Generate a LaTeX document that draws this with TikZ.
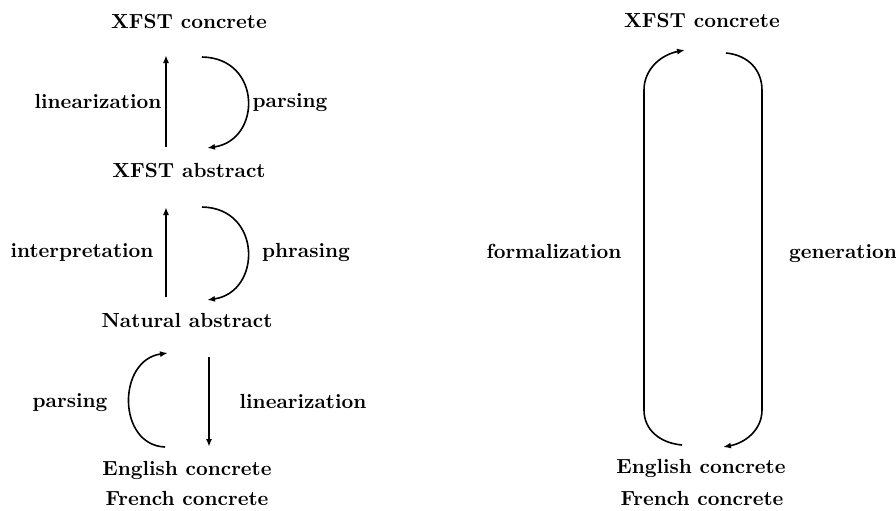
\documentclass[tikz,border=0pt]{standalone}
\usetikzlibrary{arrows.meta}
\begin{document}
\begin{tikzpicture}[x=0.5pt,y=-0.5pt,
  lbl/.style={anchor=base,inner sep=0pt,font=\fontsize{10.2}{12}\selectfont\bfseries},
  conn/.style={line width=0.8pt,-{Latex[length=4pt,width=3pt]}}]
\useasboundingbox (0,0) rectangle (896,510);
% left column texts
\node[lbl] (xc)  at (189,28)  {XFST concrete};
\node[lbl] (xa)  at (189,177) {XFST abstract};
\node[lbl] (na)  at (187,327) {Natural abstract};
\node[lbl] (ec)  at (187,475) {English concrete};
\node[lbl] (fc)  at (187,505) {French concrete};
\node[lbl] (l1)  at (98,108)  {linearization};
\node[lbl] (p1)  at (290,107) {parsing};
\node[lbl] (i1)  at (82,257)  {interpretation};
\node[lbl] (ph)  at (306,257) {phrasing};
\node[lbl] (p2)  at (70,407)  {parsing};
\node[lbl] (l2)  at (303,408) {linearization};
% right column texts
\node[lbl] (rxc) at (702,27)  {XFST concrete};
\node[lbl] (rec) at (701,473) {English concrete};
\node[lbl] (rfc) at (702,505) {French concrete};
\node[lbl] (fo)  at (554,258) {formalization};
\node[lbl] (ge)  at (843,258) {generation};
% connector end points
\coordinate (a1s) at (166,147); \coordinate (a1e) at (166,55);
\coordinate (b1s) at (202,57);  \coordinate (b1e) at (207,148);
\coordinate (a2s) at (166,297); \coordinate (a2e) at (166,207);
\coordinate (b2s) at (202,207); \coordinate (b2e) at (207,300);
\coordinate (c1s) at (165,447); \coordinate (c1e) at (168,353);
\coordinate (d1s) at (209,357); \coordinate (d1e) at (209,447);
\coordinate (fs) at (682,445);  \coordinate (fe) at (685,50);
\coordinate (gs) at (726,53);   \coordinate (ge2) at (723,447);
% left connectors
\draw[conn] (a1s) -- (a1e);
\draw[conn] (b1s) .. controls (262,58) and (262,140) .. (b1e);
\draw[conn] (a2s) -- (a2e);
\draw[conn] (b2s) .. controls (262,208) and (262,292) .. (b2e);
\draw[conn] (c1s) .. controls (117,445) and (117,360) .. (c1e);
\draw[conn] (d1s) -- (d1e);
% right connectors
\draw[conn] (fs) .. controls (660,443) and (644,430) .. (644,410) -- (644,90)
   .. controls (644,70) and (660,55) .. (fe);
\draw[conn] (gs) .. controls (748,55) and (762,70) .. (762,90) -- (762,410)
   .. controls (762,430) and (745,443) .. (ge2);
\end{tikzpicture}
\end{document}
